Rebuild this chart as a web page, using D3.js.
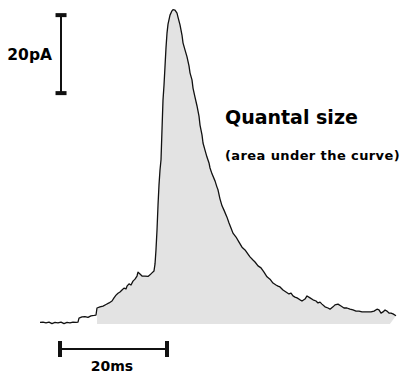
<!DOCTYPE html>
<html>
<head>
<meta charset="utf-8">
<script src="https://cdn.jsdelivr.net/npm/d3@7"></script>
<style>
  body { margin: 0; background: #fff; }
  text { font-family: "DejaVu Sans", sans-serif; font-weight: bold; fill: #000; }
</style>
</head>
<body>
<div id="chart"></div>
<script>
// trace: time in ms, current in pA (inward current plotted upward)
const timeMs = [0, 0.56, 1.12, 1.68, 2.24, 2.80, 3.36, 3.93, 4.49, 5.05, 5.61, 6.17, 6.73, 7.10,
    7.29, 7.85, 8.41, 8.97, 9.53, 10.09, 10.47, 10.65, 11.21, 11.78, 12.34, 12.90, 13.46, 13.83,
    14.21, 14.58, 14.95, 15.33, 15.70, 16.07, 16.26, 16.64, 17.01, 17.38, 17.76, 18.13, 18.32,
    18.69, 19.07, 19.63, 20.19, 20.56, 20.93, 21.31, 21.50, 21.68, 21.87, 22.06, 22.24, 22.43,
    22.62, 22.80, 22.99, 23.18, 23.36, 23.55, 23.74, 23.93, 24.30, 24.67, 24.86, 25.23, 25.61,
    25.79, 26.17, 26.54, 26.73, 27.10, 27.48, 27.85, 28.04, 28.41, 28.60, 28.97, 29.35, 29.72,
    29.91, 30.28, 30.47, 30.84, 31.21, 31.59, 31.78, 32.15, 32.71, 33.08, 33.27, 33.64, 34.02,
    34.39, 34.95, 35.33, 35.70, 36.07, 36.64, 37.20, 37.76, 38.32, 38.88, 39.25, 39.81, 40.19,
    40.75, 41.31, 41.87, 42.43, 42.99, 43.55, 44.11, 44.49, 44.86, 45.42, 45.98, 46.54, 46.92,
    47.29, 47.66, 48.04, 48.60, 48.97, 49.53, 49.91, 50.47, 51.03, 51.59, 51.96, 52.34, 52.71,
    53.27, 53.83, 54.21, 54.77, 55.14, 55.70, 56.26, 56.82, 57.38, 57.94, 58.50, 59.07, 59.63,
    60.19, 60.75, 61.31, 61.87, 62.43, 62.99, 63.36, 63.74, 64.11, 64.49, 64.86, 65.23, 65.61,
    65.98, 66.54];
const currentPa = [0.4, 0.5, 0.3, 0.5, 0.1, 0.4, 0.3, 0.5, 0.1, 0.4, 0.3, 0.5, 0.4, 0.5,
    1.5, 1.8, 1.9, 1.7, 2.1, 2.2, 2.3, 4.1, 4.4, 4.6, 5.0, 5.4, 5.9, 6.7,
    7.4, 7.9, 8.2, 8.7, 9.2, 9.0, 9.7, 10.3, 10.0, 11.0, 11.5, 12.3, 13.3,
    12.8, 12.3, 12.3, 12.2, 12.6, 13.1, 13.6, 15.4, 19.0, 24.1, 30.5, 35.6, 39.5,
    42.1, 49.7, 57.4, 61.3, 65.9, 70.8, 74.6, 76.9, 79.2, 80.3, 80.6, 80.5, 79.7,
    78.7, 76.7, 74.1, 72.1, 70.3, 68.5, 66.2, 64.4, 62.6, 60.5, 58.2, 55.9, 53.3,
    51.0, 48.5, 46.4, 44.6, 42.8, 41.3, 40.0, 38.5, 36.7, 35.1, 34.4, 32.1, 30.3,
    29.2, 27.4, 25.9, 24.6, 23.3, 22.3, 21.0, 19.7, 19.0, 17.9, 17.2, 16.4, 15.9,
    14.9, 14.4, 13.3, 12.1, 11.5, 10.5, 10.0, 9.7, 9.5, 8.7, 8.2, 7.7, 7.9,
    7.2, 6.9, 6.7, 6.2, 5.9, 6.4, 7.2, 6.7, 6.2, 5.9, 5.4, 5.6, 5.1,
    4.4, 4.1, 3.8, 4.4, 4.9, 5.1, 4.6, 4.1, 4.1, 3.8, 3.6, 3.3, 3.3,
    3.1, 3.1, 3.1, 3.1, 3.3, 3.8, 3.6, 2.8, 3.1, 3.6, 3.3, 2.8, 2.8,
    2.6, 2.1];

// shaded region (area under the curve)
const areaStartMs = 10.65;
const areaEndMs = 65.4;

// scale bars
const scaleBarMs = 20;
const scaleBarPa = 20;
const timeBarStartMs = 3.74;
const currentBarAtMs = 3.93;
const currentBarStartPa = 59.2;

const width = 406, height = 373;

const svg = d3.select("#chart")
    .append("svg")
    .attr("width", width)
    .attr("height", height);

// 20 ms = 107 px, 20 pA = 78 px
const xScale = d3.scaleLinear().domain([0, 20]).range([40, 147]);
const yScale = d3.scaleLinear().domain([0, 20]).range([324, 246]);

const trace = timeMs.map((t, i) => ({ t, v: currentPa[i] }));

// filled area
const filled = trace.filter(d => d.t >= areaStartMs);
const areaPoly = [{ t: areaStartMs, v: 0 }, ...filled, { t: areaEndMs, v: 0 }];

svg.append("path")
    .datum(areaPoly)
    .attr("fill", "#e3e3e3")
    .attr("stroke", "none")
    .attr("d", d3.line().x(d => xScale(d.t)).y(d => yScale(d.v)));

// the trace itself
svg.append("path")
    .datum(trace)
    .attr("fill", "none")
    .attr("stroke", "#111")
    .attr("stroke-width", 1.3)
    .attr("stroke-linejoin", "round")
    .attr("d", d3.line().x(d => xScale(d.t)).y(d => yScale(d.v)));

// vertical scale bar (20pA)
const vx = xScale(currentBarAtMs);
const vy0 = yScale(currentBarStartPa), vy1 = yScale(currentBarStartPa + scaleBarPa);
svg.append("line")
    .attr("x1", vx).attr("x2", vx)
    .attr("y1", vy0).attr("y2", vy1)
    .attr("stroke", "#111").attr("stroke-width", 2);
[vy0, vy1].forEach(y => {
    svg.append("rect")
        .attr("x", vx - 5.5).attr("y", y - 2)
        .attr("width", 11).attr("height", 4)
        .attr("fill", "#111");
});
svg.append("text")
    .attr("x", 52).attr("y", 60)
    .attr("text-anchor", "end")
    .style("font-size", "15.5px")
    .text(scaleBarPa + "pA");

// horizontal scale bar (20ms)
const hx0 = xScale(timeBarStartMs), hx1 = xScale(timeBarStartMs + scaleBarMs);
const hy = 349;
svg.append("line")
    .attr("x1", hx0).attr("x2", hx1)
    .attr("y1", hy).attr("y2", hy)
    .attr("stroke", "#111").attr("stroke-width", 2);
[hx0, hx1].forEach(x => {
    svg.append("rect")
        .attr("x", x - 2).attr("y", hy - 8)
        .attr("width", 4).attr("height", 16)
        .attr("fill", "#111");
});
svg.append("text")
    .attr("x", 112).attr("y", 371)
    .attr("text-anchor", "middle")
    .style("font-size", "14px")
    .text(scaleBarMs + "ms");

// annotation
svg.append("text")
    .attr("x", 225).attr("y", 124)
    .style("font-size", "19px")
    .text("Quantal size");
svg.append("text")
    .attr("x", 225).attr("y", 160)
    .style("font-size", "13px")
    .style("letter-spacing", "0.4px")
    .text("(area under the curve)");
</script>
</body>
</html>
